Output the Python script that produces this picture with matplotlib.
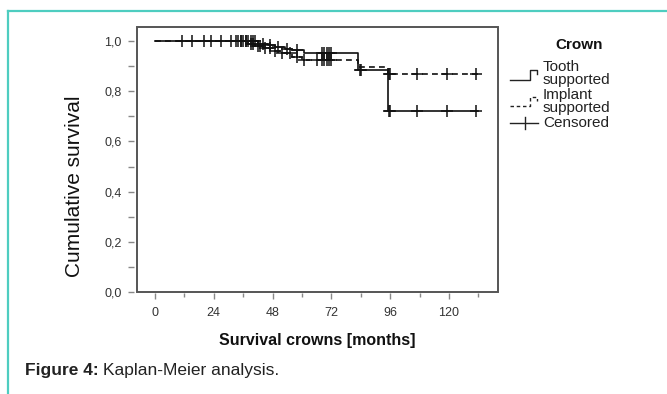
import numpy as np
import matplotlib
matplotlib.use('Agg')
import matplotlib.pyplot as plt
from matplotlib.lines import Line2D
from matplotlib.patches import Rectangle
from matplotlib.ticker import MultipleLocator, FuncFormatter

plt.rcParams['font.family'] = ['Liberation Sans', 'DejaVu Sans']

# Kaplan-Meier steps (months, cumulative survival)
tooth_t = [0, 42, 46, 49, 53, 56, 61, 83, 95, 132]
tooth_s = [1.0, 0.99, 0.983, 0.977, 0.970, 0.964, 0.951, 0.884, 0.722, 0.722]
tooth_cens = [11, 15, 20, 23, 27, 31, 33, 34, 35, 36, 37, 38, 39, 40, 41,
              44, 47, 50, 54, 58, 68, 69, 70, 71, 72, 83.5, 84, 95.5, 96,
              107, 119, 131]

impl_t = [0, 38, 41, 44, 48, 51, 56, 60, 83, 95, 132]
impl_s = [1.0, 0.99, 0.981, 0.972, 0.962, 0.952, 0.937, 0.924, 0.895, 0.867, 0.867]
impl_cens = [35, 37, 39, 40, 42, 43, 45, 47, 49, 52, 55, 58, 61, 66, 68, 69,
             70, 71, 72, 95.5, 96, 107, 119, 131]

x_ticks = [0, 24, 48, 72, 96, 120]
y_ticks = [0.0, 0.2, 0.4, 0.6, 0.8, 1.0]


def surv_at(t, s, c):
    idx = np.searchsorted(t, c, side='right') - 1
    return np.array(s)[idx]


W, H = 667, 394
fig = plt.figure(figsize=(W / 100, H / 100), dpi=100)
ax = fig.add_axes([137 / W, (H - 292) / H, 361 / W, 265 / H])

ax.step(tooth_t, tooth_s, where='post', color='#111111', lw=1.2)
ax.step(impl_t, impl_s, where='post', color='#111111', lw=1.2,
        linestyle=(0, (3.5, 2.5)))
ax.plot(tooth_cens, surv_at(tooth_t, tooth_s, tooth_cens), '+',
        color='#111111', ms=8, mew=1.1)
ax.plot(impl_cens, surv_at(impl_t, impl_s, impl_cens), '+',
        color='#111111', ms=8, mew=1.1)

ax.set_xlim(-7.35, 140)
ax.set_ylim(0, 1.056)

ax.set_xticks(x_ticks)
ax.set_yticks(y_ticks)
ax.xaxis.set_minor_locator(MultipleLocator(12))
ax.yaxis.set_minor_locator(MultipleLocator(0.1))
ax.yaxis.set_major_formatter(FuncFormatter(lambda v, p: f'{v:.1f}'.replace('.', ',')))

# ticks sit a little away from the frame, as in SPSS output
for sp in ['left', 'bottom', 'top', 'right']:
    ax.spines[sp].set_visible(False)
ax.spines['left'].set_position(('outward', 2.2))
ax.spines['bottom'].set_position(('outward', 1.0))
ax.add_patch(Rectangle((0, 0), 1, 1, transform=ax.transAxes, fill=False,
                       edgecolor='#555555', lw=1.4, clip_on=False, zorder=5))

ax.tick_params(axis='both', which='both', direction='out', color='#888888',
               width=1.0, labelcolor='#333333', labelsize=9)
ax.tick_params(axis='x', which='major', length=4, pad=6)
ax.tick_params(axis='x', which='minor', length=3)
ax.tick_params(axis='y', which='both', length=4, pad=5)

fig.text(317.5 / W, 1 - 340 / H, 'Survival crowns [months]', ha='center',
         va='center', fontsize=11.5, fontweight='bold', color='#111111')
fig.text(75 / W, 1 - 186 / H, 'Cumulative survival', ha='center', va='center',
         rotation=90, fontsize=15, color='#111111')

# legend drawn by hand
fig.text(579 / W, 1 - 45 / H, 'Crown', ha='center', va='center',
         fontsize=11, fontweight='bold', color='#111111')
fig.text(543 / W, 1 - 73.5 / H, 'Tooth\nsupported', ha='left', va='center',
         fontsize=11, linespacing=0.9, color='#222222')
fig.text(543 / W, 1 - 101.5 / H, 'Implant\nsupported', ha='left', va='center',
         fontsize=11, linespacing=0.9, color='#222222')
fig.text(543 / W, 1 - 123 / H, 'Censored', ha='left', va='center',
         fontsize=11, color='#222222')


def fpx(xs, ys):
    return [x / W for x in xs], [1 - y / H for y in ys]


xs, ys = fpx([510, 530, 530, 537, 537], [80, 80, 70, 70, 74])
fig.add_artist(Line2D(xs, ys, color='#222222', lw=1.0))
xs, ys = fpx([510, 530, 530, 537, 537], [106, 106, 97, 97, 101])
fig.add_artist(Line2D(xs, ys, color='#222222', lw=1.0, linestyle=(0, (2.5, 2))))
xs, ys = fpx([510, 538], [123, 123])
fig.add_artist(Line2D(xs, ys, color='#222222', lw=1.0))
xs, ys = fpx([525, 525], [117, 129])
fig.add_artist(Line2D(xs, ys, color='#222222', lw=1.0))

# caption
t1 = fig.text(25 / W, 1 - 370 / H, 'Figure 4:', ha='left', va='center',
              fontsize=12.5, fontweight='bold', color='#222222')
fig.canvas.draw()
bb = t1.get_window_extent()
fig.text((bb.x1 + 4) / W, 1 - 370 / H, 'Kaplan-Meier analysis.', ha='left',
         va='center', fontsize=12.5, color='#222222')

# teal page frame
teal = '#4ecdc0'
xs, ys = fpx([8, W], [11, 11])
fig.add_artist(Line2D(xs, ys, color=teal, lw=1.6))
xs, ys = fpx([8, 8], [11, H])
fig.add_artist(Line2D(xs, ys, color=teal, lw=1.6))

fig.savefig('out.png', dpi=100)
